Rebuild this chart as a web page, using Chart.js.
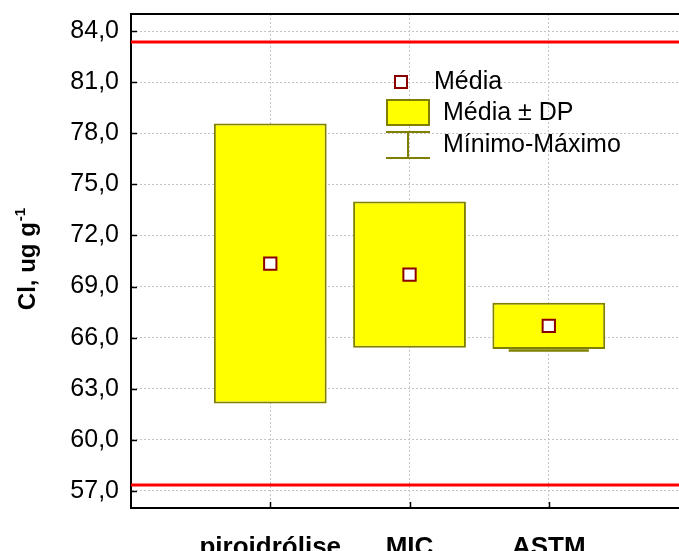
<!DOCTYPE html>
<html>
<head>
<meta charset="utf-8">
<script src="https://cdn.jsdelivr.net/npm/chart.js@4.4.1/dist/chart.umd.min.js"></script>
<style>
  html, body { margin: 0; padding: 0; background: #fff; overflow: hidden; }
  #wrap { width: 679px; height: 551px; }
</style>
</head>
<body>
<div id="wrap"><canvas id="c" width="679" height="551"></canvas></div>
<script>
// Cl content by method: mean, standard deviation, min/max
const categories = ['piroidrólise', 'MIC', 'ASTM'];
const means      = [70.35, 69.7, 66.69];
const stdDevs    = [8.22, 4.29, 1.36];
const minimums   = [null, null, 65.25];
const maximums   = [null, null, null];
const limitLines = [83.35, 57.35];
const yTicks     = [57, 60, 63, 66, 69, 72, 75, 78, 81, 84];

const FONT = "'Liberation Sans', Arial, sans-serif";
const OLIVE = '#808000';
const MARK = '#8b0000';

const xMin = -1, xMax = 2.935;

const boxData = categories.map((c, i) => ({ x: i, y: [means[i] - stdDevs[i], means[i] + stdDevs[i]] }));
const meanData = categories.map((c, i) => ({ x: i, y: means[i] }));
const limitSets = limitLines.map(v => ({
  type: 'line',
  data: [{ x: xMin, y: v }, { x: xMax, y: v }],
  borderColor: '#ff0000',
  borderWidth: 3,
  pointRadius: 0,
  fill: false,
  order: 1
}));

const fmt = v => v.toFixed(1).replace('.', ',');

const decorations = {
  id: 'decorations',
  beforeDatasetsDraw(chart) {
    // min-max whiskers sit beneath the boxes
    const { ctx, scales: { x, y } } = chart;
    const half = 0.288;
    ctx.save();
    ctx.strokeStyle = OLIVE;
    ctx.lineWidth = 2.5;
    categories.forEach((c, i) => {
      const xl = x.getPixelForValue(i - half);
      const xr = x.getPixelForValue(i + half);
      const xc = x.getPixelForValue(i);
      [minimums[i], maximums[i]].forEach(v => {
        if (v == null) return;
        const py = y.getPixelForValue(v);
        ctx.beginPath(); ctx.moveTo(xl, py); ctx.lineTo(xr, py); ctx.stroke();
      });
      if (minimums[i] != null && maximums[i] != null) {
        ctx.beginPath();
        ctx.moveTo(xc, y.getPixelForValue(minimums[i]));
        ctx.lineTo(xc, y.getPixelForValue(maximums[i]));
        ctx.stroke();
      }
    });
    ctx.restore();
  },
  afterDraw(chart) {
    const { ctx, chartArea: a, scales: { x, y } } = chart;
    ctx.save();
    // top frame line
    ctx.strokeStyle = '#000';
    ctx.lineWidth = 2;
    ctx.beginPath(); ctx.moveTo(a.left - 1, a.top); ctx.lineTo(a.right, a.top); ctx.stroke();
    // inward tick marks
    ctx.lineWidth = 1.5;
    yTicks.forEach(v => {
      const py = Math.round(y.getPixelForValue(v)) + 0.5;
      ctx.beginPath(); ctx.moveTo(a.left, py); ctx.lineTo(a.left + 6, py); ctx.stroke();
    });
    categories.forEach((c, i) => {
      const px = Math.round(x.getPixelForValue(i)) + 0.5;
      ctx.beginPath(); ctx.moveTo(px, a.bottom); ctx.lineTo(px, a.bottom - 6); ctx.stroke();
    });

    // y axis title with superscript
    ctx.fillStyle = '#000';
    ctx.translate(35, 259);
    ctx.rotate(-Math.PI / 2);
    ctx.textBaseline = 'alphabetic';
    ctx.textAlign = 'left';
    const main = 'Cl, ug g';
    const sup = '-1';
    ctx.font = 'bold 24px ' + FONT;
    const wMain = ctx.measureText(main).width;
    ctx.font = 'bold 15px ' + FONT;
    const wSup = ctx.measureText(sup).width;
    const x0 = -(wMain + wSup + 1) / 2;
    ctx.font = 'bold 24px ' + FONT;
    ctx.fillText(main, x0, 0);
    ctx.font = 'bold 15px ' + FONT;
    ctx.fillText(sup, x0 + wMain + 1, -10);
    ctx.setTransform(1, 0, 0, 1, 0, 0);

    // legend
    ctx.font = '25px ' + FONT;
    ctx.textBaseline = 'middle';
    ctx.textAlign = 'left';
    ctx.fillStyle = '#fff';
    ctx.strokeStyle = MARK;
    ctx.lineWidth = 2;
    ctx.fillRect(395, 76, 12, 12);
    ctx.strokeRect(395, 76, 12, 12);
    ctx.fillStyle = '#000';
    ctx.fillText('Média', 434, 82);

    ctx.fillStyle = '#ffff00';
    ctx.strokeStyle = OLIVE;
    ctx.fillRect(387, 100, 42, 25);
    ctx.strokeRect(387, 100, 42, 25);
    ctx.fillStyle = '#000';
    ctx.fillText('Média ± DP', 443, 113);

    ctx.strokeStyle = OLIVE;
    ctx.lineWidth = 2;
    ctx.beginPath();
    ctx.moveTo(386, 132); ctx.lineTo(430, 132);
    ctx.moveTo(386, 158); ctx.lineTo(430, 158);
    ctx.moveTo(408, 132); ctx.lineTo(408, 158);
    ctx.stroke();
    ctx.fillStyle = '#000';
    ctx.fillText('Mínimo-Máximo', 443, 145);
    ctx.restore();
  }
};

new Chart(document.getElementById('c'), {
  type: 'bar',
  data: {
    datasets: [
      {
        type: 'line',
        data: meanData,
        showLine: false,
        pointStyle: 'rect',
        pointRadius: 8.7,
        pointBorderWidth: 2,
        pointBorderColor: MARK,
        pointBackgroundColor: '#ffffff',
        order: 0
      },
      ...limitSets,
      {
        type: 'bar',
        data: boxData,
        backgroundColor: '#ffff00',
        borderColor: OLIVE,
        borderWidth: 2,
        borderSkipped: false,
        barPercentage: 0.81,
        categoryPercentage: 1,
        order: 2
      }
    ]
  },
  options: {
    responsive: false,
    animation: false,
    devicePixelRatio: 1,
    events: [],
    layout: { autoPadding: false, padding: { top: 14, left: 0, right: 0, bottom: 0 } },
    plugins: { legend: { display: false }, tooltip: { enabled: false } },
    scales: {
      x: {
        type: 'linear',
        min: xMin,
        max: xMax,
        offset: false,
        afterBuildTicks: s => { s.ticks = categories.map((c, i) => ({ value: i })); },
        afterFit: s => { s.height = 43; s.paddingLeft = 0; s.paddingRight = 0; },
        ticks: {
          callback: v => categories[v] ?? '',
          font: { family: FONT, size: 26, weight: 'bold' },
          color: '#000',
          padding: 24,
          maxRotation: 0,
          autoSkip: false
        },
        grid: { color: '#c4c4c4', lineWidth: 1, drawTicks: false, offset: false },
        border: { display: true, color: '#000', width: 2, dash: [2, 2] }
      },
      y: {
        type: 'linear',
        min: 56,
        max: 85,
        afterBuildTicks: s => { s.ticks = yTicks.map(v => ({ value: v })); },
        afterFit: s => { s.width = 131; s.paddingTop = 0; s.paddingBottom = 0; },
        ticks: {
          callback: v => fmt(v),
          font: { family: FONT, size: 25 },
          color: '#000',
          padding: 12
        },
        grid: { color: '#c4c4c4', lineWidth: 1, drawTicks: false },
        border: { display: true, color: '#000', width: 2, dash: [2, 2] }
      }
    }
  },
  plugins: [decorations]
});
</script>
</body>
</html>
